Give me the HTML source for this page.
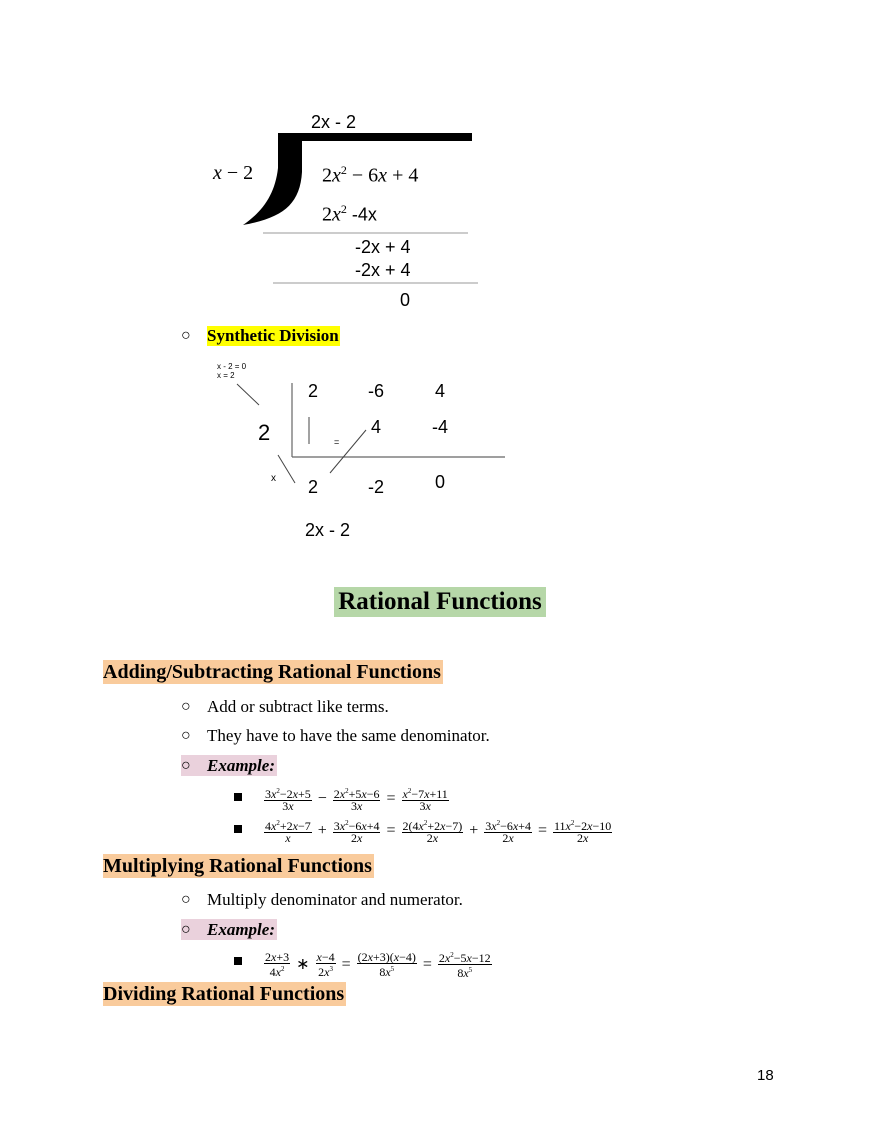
<!DOCTYPE html>
<html><head><meta charset="utf-8"><style>
body{margin:0;width:880px;height:1139px;background:#fff;position:relative;overflow:hidden;font-family:"Liberation Serif",serif;color:#000}
.a{position:absolute;white-space:nowrap;line-height:1}
.s{font-family:"Liberation Sans",sans-serif}
.h{font-weight:bold}
.f{display:inline-flex;flex-direction:column;align-items:center;vertical-align:middle;font-size:12px;line-height:11px;margin:0 2px}
.f span:first-child{border-bottom:1px solid #000;padding:0 1px}
.m{font-size:12px;display:flex;align-items:center}
.op{font-size:16px;margin:0 4px}
.sq{position:absolute;width:8px;height:8px;background:#000}
</style></head><body>
<svg class="a" style="left:0;top:0" width="880" height="560">
<path d="M278,133 L472,133 L472,141 L302,141 L302,172 C300,205 282,218 243,225 C262,212 275,195 278,168 Z" fill="#000"/>
<line x1="263" y1="233" x2="468" y2="233" stroke="#999" stroke-width="1"/>
<line x1="273" y1="283" x2="478" y2="283" stroke="#999" stroke-width="1"/>
<line x1="237" y1="384" x2="259" y2="405" stroke="#444" stroke-width="1"/>
<line x1="292" y1="383" x2="292" y2="457" stroke="#666" stroke-width="1.2"/>
<line x1="292" y1="457" x2="505" y2="457" stroke="#666" stroke-width="1.2"/>
<line x1="309" y1="417" x2="309" y2="444" stroke="#444" stroke-width="1"/>
<line x1="330" y1="473" x2="366" y2="430" stroke="#444" stroke-width="1"/>
<line x1="278" y1="455" x2="295" y2="483" stroke="#444" stroke-width="1"/>
</svg>
<div class="a s" style="left:311px;top:113px;font-size:18px">2x - 2</div>
<div class="a" style="left:213px;top:163px;font-size:20px;font-style:italic">x <span style="font-style:normal">−</span> <span style="font-style:normal">2</span></div>
<div class="a" style="left:322px;top:164px;font-size:20px">2<i>x</i><sup style="font-size:12px">2</sup> − 6<i>x</i> + 4</div>
<div class="a" style="left:322px;top:203px;font-size:20px">2<i>x</i><sup style="font-size:12px">2</sup> <span class="s" style="font-size:18px">-4x</span></div>
<div class="a s" style="left:355px;top:238px;font-size:18px">-2x + 4</div>
<div class="a s" style="left:355px;top:261px;font-size:18px">-2x + 4</div>
<div class="a s" style="left:400px;top:291px;font-size:18px">0</div>

<div class="a" style="left:181px;top:328px;font-size:16px">○</div>
<div class="a h" style="left:207px;top:326px;font-size:17px;background:#ffff00;padding:1px 1px 2px 0">Synthetic Division</div>

<div class="a s" style="left:217px;top:362px;font-size:8px;line-height:9px">x - 2 = 0<br>x = 2</div>
<div class="a s" style="left:258px;top:422px;font-size:22px">2</div>
<div class="a s" style="left:308px;top:382px;font-size:18px">2</div>
<div class="a s" style="left:368px;top:382px;font-size:18px">-6</div>
<div class="a s" style="left:435px;top:382px;font-size:18px">4</div>
<div class="a s" style="left:371px;top:418px;font-size:18px">4</div>
<div class="a s" style="left:432px;top:418px;font-size:18px">-4</div>
<div class="a s" style="left:334px;top:438px;font-size:9px">=</div>
<div class="a s" style="left:271px;top:474px;font-size:10px">x</div>
<div class="a s" style="left:308px;top:478px;font-size:18px">2</div>
<div class="a s" style="left:368px;top:478px;font-size:18px">-2</div>
<div class="a s" style="left:435px;top:473px;font-size:18px">0</div>
<div class="a s" style="left:305px;top:521px;font-size:18px">2x - 2</div>

<div class="a h" style="left:334px;top:587px;width:212px;height:30px;background:#b6d7a8;font-size:25px;line-height:30px;text-align:center">Rational Functions</div>
<div class="a h" style="left:103px;top:660px;width:340px;height:24px;background:#f9cb9c;font-size:20px;line-height:24px">Adding/Subtracting Rational Functions</div>
<div class="a" style="left:181px;top:699px;font-size:16px">○</div>
<div class="a" style="left:207px;top:698px;font-size:17px">Add or subtract like terms.</div>
<div class="a" style="left:181px;top:728px;font-size:16px">○</div>
<div class="a" style="left:207px;top:727px;font-size:17px">They have to have the same denominator.</div>
<div class="a" style="left:181px;top:755px;width:96px;height:21px;background:#ead1dc"></div>
<div class="a" style="left:181px;top:758px;font-size:16px">○</div>
<div class="a h" style="left:207px;top:757px;font-size:17px;font-style:italic">Example:</div>

<div class="sq" style="left:234px;top:793px"></div>
<div class="a m" style="left:262px;top:786px"><span class="f"><span>3<i>x</i><sup style="font-size:7px">2</sup>−2<i>x</i>+5</span><span>3<i>x</i></span></span><span class="op">−</span><span class="f"><span>2<i>x</i><sup style="font-size:7px">2</sup>+5<i>x</i>−6</span><span>3<i>x</i></span></span><span class="op">=</span><span class="f"><span><i>x</i><sup style="font-size:7px">2</sup>−7<i>x</i>+11</span><span>3<i>x</i></span></span></div>
<div class="sq" style="left:234px;top:825px"></div>
<div class="a m" style="left:262px;top:818px"><span class="f"><span>4<i>x</i><sup style="font-size:7px">2</sup>+2<i>x</i>−7</span><span><i>x</i></span></span><span class="op">+</span><span class="f"><span>3<i>x</i><sup style="font-size:7px">2</sup>−6<i>x</i>+4</span><span>2<i>x</i></span></span><span class="op">=</span><span class="f"><span>2(4<i>x</i><sup style="font-size:7px">2</sup>+2<i>x</i>−7)</span><span>2<i>x</i></span></span><span class="op">+</span><span class="f"><span>3<i>x</i><sup style="font-size:7px">2</sup>−6<i>x</i>+4</span><span>2<i>x</i></span></span><span class="op">=</span><span class="f"><span>11<i>x</i><sup style="font-size:7px">2</sup>−2<i>x</i>−10</span><span>2<i>x</i></span></span></div>

<div class="a h" style="left:103px;top:854px;width:271px;height:24px;background:#f9cb9c;font-size:20px;line-height:24px">Multiplying Rational Functions</div>
<div class="a" style="left:181px;top:892px;font-size:16px">○</div>
<div class="a" style="left:207px;top:891px;font-size:17px">Multiply denominator and numerator.</div>
<div class="a" style="left:181px;top:919px;width:96px;height:21px;background:#ead1dc"></div>
<div class="a" style="left:181px;top:922px;font-size:16px">○</div>
<div class="a h" style="left:207px;top:921px;font-size:17px;font-style:italic">Example:</div>
<div class="sq" style="left:234px;top:957px"></div>
<div class="a m" style="left:262px;top:950px"><span class="f"><span>2<i>x</i>+3</span><span>4<i>x</i><sup style="font-size:7px">2</sup></span></span><span class="op">∗</span><span class="f"><span><i>x</i>−4</span><span>2<i>x</i><sup style="font-size:7px">3</sup></span></span><span class="op">=</span><span class="f"><span>(2<i>x</i>+3)(<i>x</i>−4)</span><span>8<i>x</i><sup style="font-size:7px">5</sup></span></span><span class="op">=</span><span class="f"><span>2<i>x</i><sup style="font-size:7px">2</sup>−5<i>x</i>−12</span><span>8<i>x</i><sup style="font-size:7px">5</sup></span></span></div>

<div class="a h" style="left:103px;top:982px;width:243px;height:24px;background:#f9cb9c;font-size:20px;line-height:24px">Dividing Rational Functions</div>
<div class="a s" style="left:757px;top:1068px;font-size:15px">18</div>
</body></html>
